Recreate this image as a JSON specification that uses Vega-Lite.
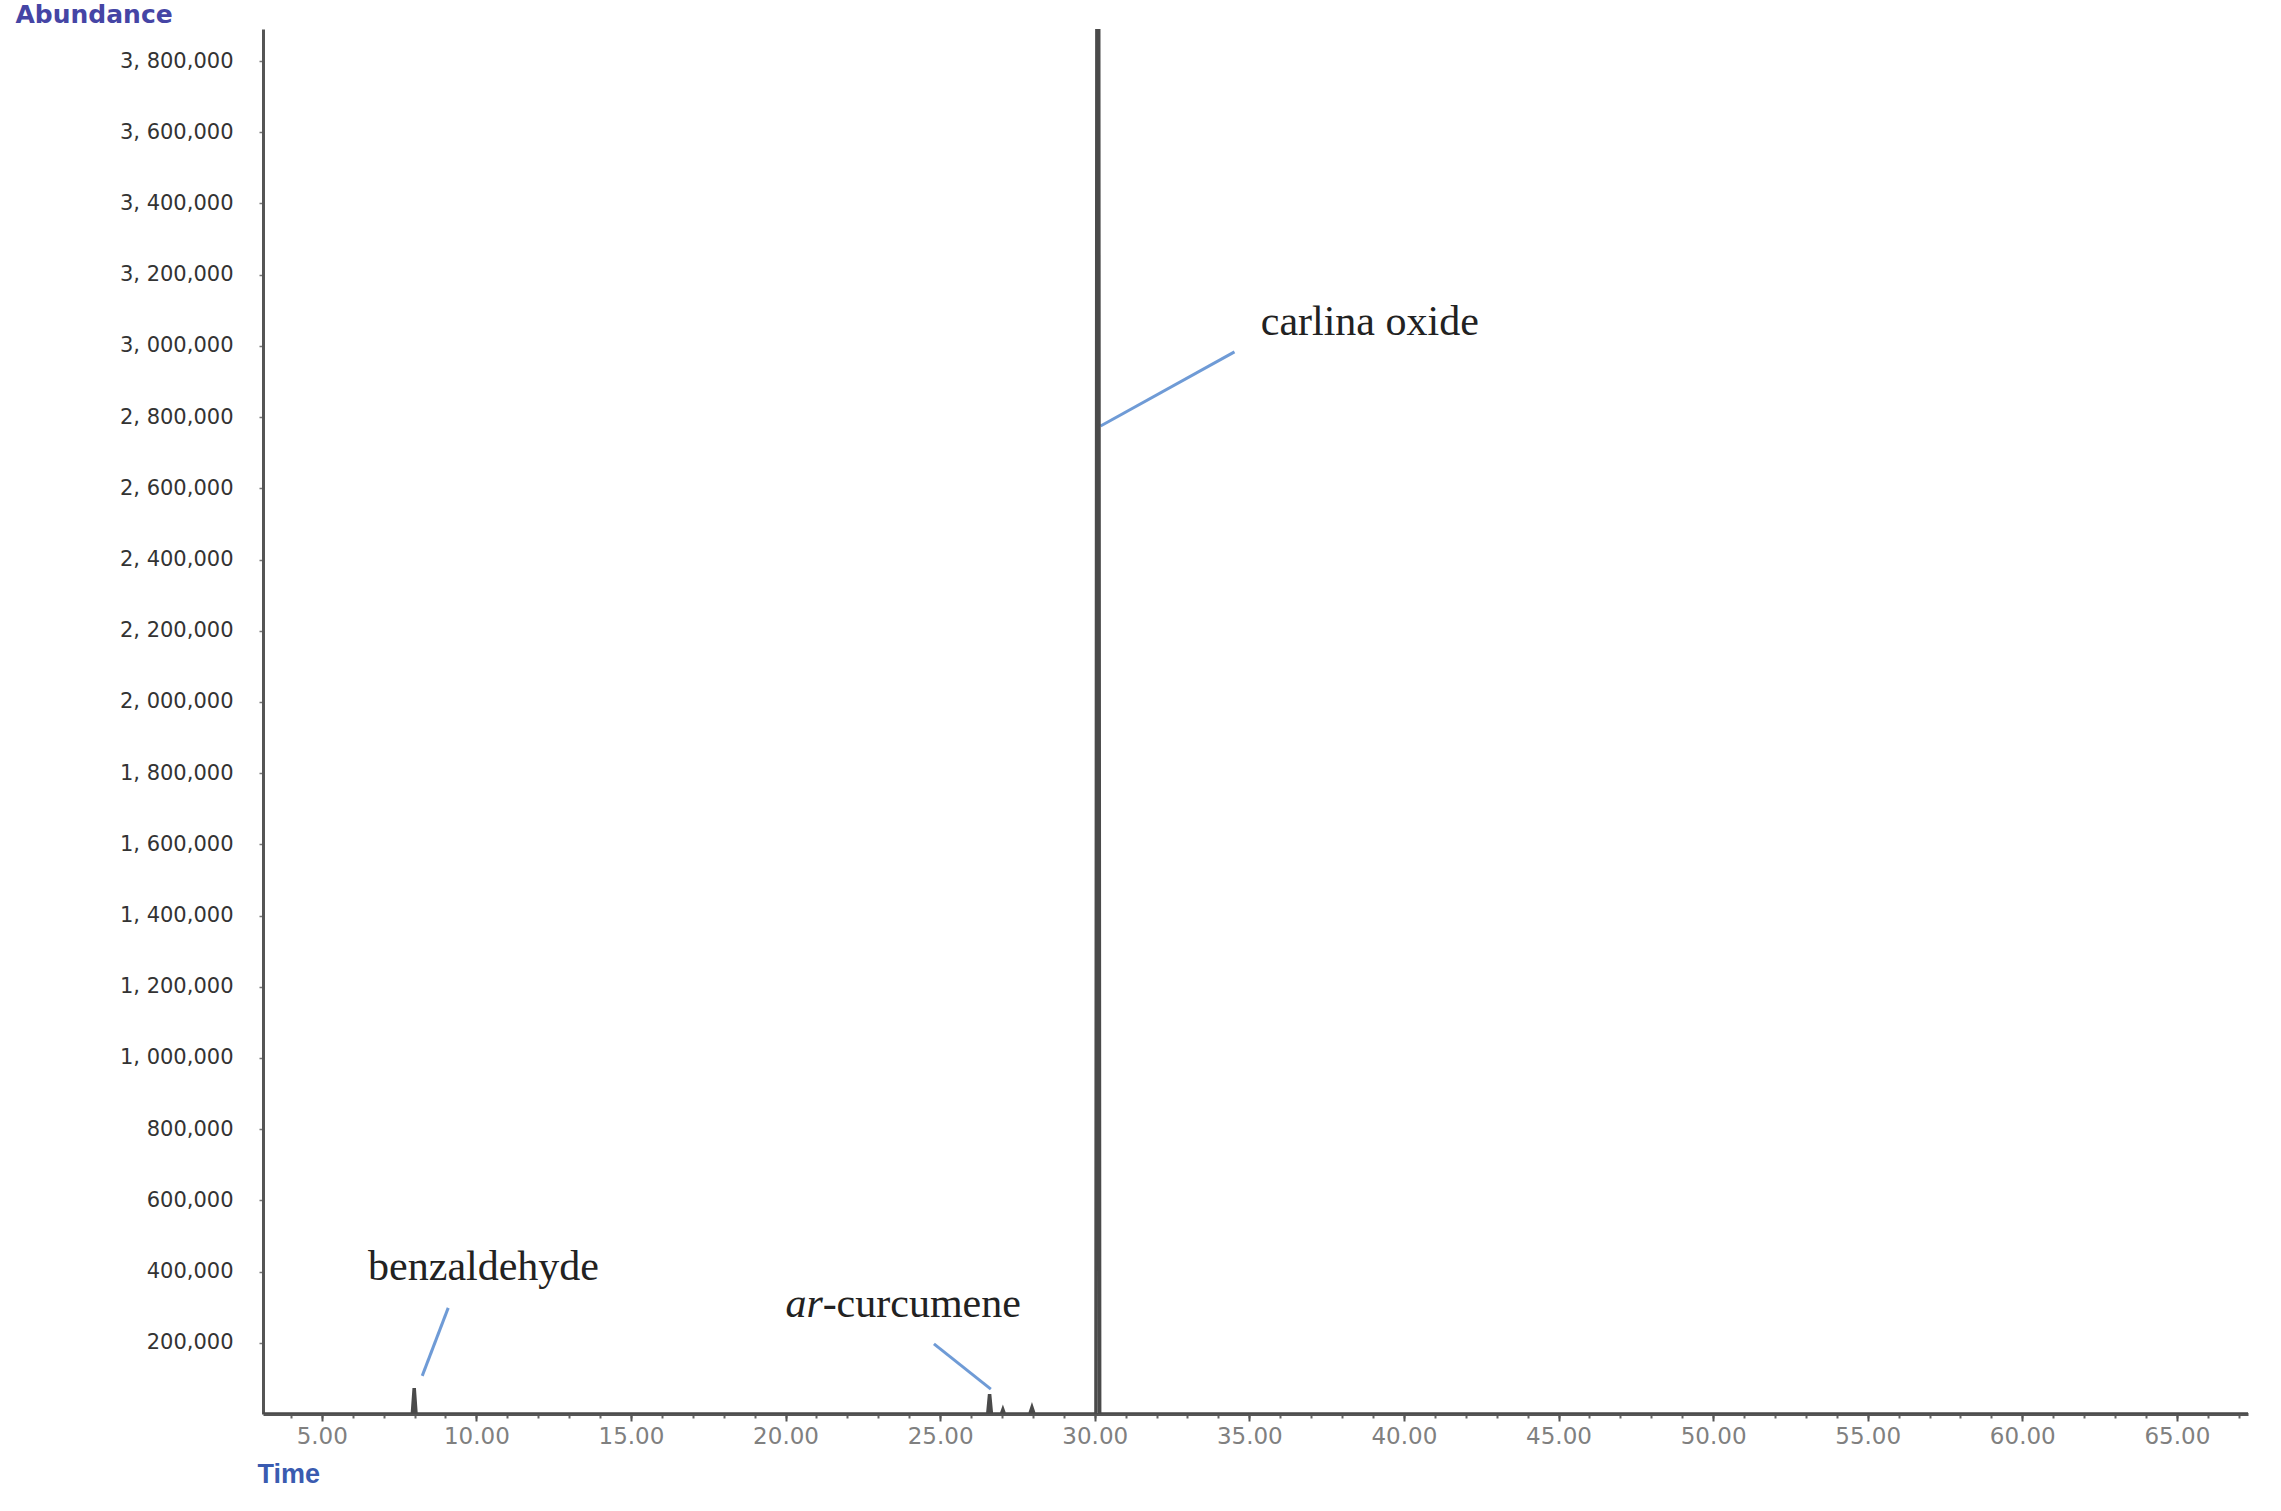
{
  "$schema": "https://vega.github.io/schema/vega-lite/v6.json",
  "width": 1985,
  "height": 1385,
  "autosize": {"type": "none"},
  "padding": {"left": 263, "top": 29, "right": 33, "bottom": 97},
  "background": "white",
  "config": {"view": {"stroke": null}},
  "resolve": {"axis": {"x": "independent"}},
  "datasets": {
    "trace": [
      {"t": 3.1, "a": 0}, {"t": 7.93, "a": 0}, {"t": 7.99, "a": 73000}, {"t": 8.05, "a": 0},
      {"t": 26.54, "a": 0}, {"t": 26.6, "a": 56000}, {"t": 26.66, "a": 0},
      {"t": 26.98, "a": 0}, {"t": 27.03, "a": 12000}, {"t": 27.08, "a": 0},
      {"t": 27.9, "a": 0}, {"t": 27.97, "a": 18000}, {"t": 28.04, "a": 0},
      {"t": 30.04, "a": 0}, {"t": 30.07, "a": 3890000}, {"t": 30.13, "a": 3890000}, {"t": 30.16, "a": 0},
      {"t": 67.3, "a": 0}
    ],
    "callouts": [
      {"t1": 30.19, "a1": 2775000, "t2": 34.52, "a2": 2983000},
      {"t1": 8.25, "a1": 107000, "t2": 9.09, "a2": 298000},
      {"t1": 24.8, "a1": 197000, "t2": 26.64, "a2": 70000}
    ],
    "labels": [
      {"t": 35.37, "a": 3030000, "label": "carlina oxide", "style": "normal"},
      {"t": 6.5, "a": 376000, "label": "benzaldehyde", "style": "normal"},
      {"t": 20.0, "a": 272000, "label": "ar", "style": "italic"},
      {"t": 21.2, "a": 272000, "label": "-curcumene", "style": "normal"}
    ]
  },
  "layer": [
    {
      "data": {"name": "callouts"},
      "mark": {"type": "rule", "color": "#6f9bd6", "strokeWidth": 3},
      "encoding": {
        "x": {
          "field": "t1", "type": "quantitative",
          "scale": {"domain": [3.1, 67.3], "nice": false, "zero": false},
          "axis": {
            "orient": "bottom",
            "values": [4,5,6,7,8,9,10,11,12,13,14,15,16,17,18,19,20,21,22,23,24,25,26,27,28,29,30,31,32,33,34,35,36,37,38,39,40,41,42,43,44,45,46,47,48,49,50,51,52,53,54,55,56,57,58,59,60,61,62,63,64,65,66,67],
            "labels": false,
            "domain": false,
            "tickSize": 4,
            "tickWidth": 2,
            "tickColor": "#666666",
            "grid": false,
            "title": null
          }
        },
        "y": {"field": "a1", "type": "quantitative"},
        "x2": {"field": "t2"},
        "y2": {"field": "a2"}
      }
    },
    {
      "data": {"name": "trace"},
      "mark": {"type": "line", "color": "#4a4a4a", "strokeWidth": 3.5, "clip": true},
      "encoding": {
        "x": {
          "field": "t", "type": "quantitative",
          "scale": {"domain": [3.1, 67.3], "nice": false, "zero": false},
          "axis": {
            "orient": "bottom",
            "values": [5,10,15,20,25,30,35,40,45,50,55,60,65],
            "format": ".2f",
            "labelOverlap": false,
            "labelFlush": false,
            "labelFont": "DejaVu Sans",
            "labelFontSize": 23,
            "labelColor": "#808080",
            "labelPadding": 4,
            "tickSize": 7,
            "tickWidth": 2,
            "tickColor": "#555555",
            "domainColor": "#555555",
            "domainWidth": 3,
            "grid": false,
            "title": "Time",
            "titleFont": "Liberation Sans",
            "titleFontSize": 27,
            "titleFontWeight": "bold",
            "titleColor": "#3a5bb0",
            "titleAnchor": "start",
            "titleAlign": "left",
            "titleBaseline": "middle",
            "titleX": -6,
            "titleY": 60
          }
        },
        "y": {
          "field": "a", "type": "quantitative",
          "scale": {"domain": [0, 3890000], "nice": false},
          "axis": {
            "values": [200000,400000,600000,800000,1000000,1200000,1400000,1600000,1800000,2000000,2200000,2400000,2600000,2800000,3000000,3200000,3400000,3600000,3800000],
            "labelExpr": "datum.value >= 1000000 ? replace(format(datum.value, ','), ',', ', ') : format(datum.value, ',')",
            "labelFont": "DejaVu Sans",
            "labelFontSize": 21,
            "labelColor": "#333333",
            "labelPadding": 26,
            "tickSize": 4,
            "tickWidth": 1.5,
            "tickColor": "#777777",
            "domainColor": "#555555",
            "domainWidth": 3,
            "grid": false,
            "title": "Abundance",
            "titleAngle": 0,
            "titleFont": "DejaVu Sans",
            "titleFontSize": 25,
            "titleFontWeight": "bold",
            "titleColor": "#4545a5",
            "titleAlign": "left",
            "titleBaseline": "middle",
            "titleX": -248,
            "titleY": -15
          }
        }
      }
    },
    {
      "data": {"name": "labels"},
      "transform": [{"filter": "datum.style === 'normal'"}],
      "mark": {"type": "text", "font": "Liberation Serif", "fontSize": 42, "color": "#222222", "align": "left", "baseline": "alphabetic"},
      "encoding": {
        "x": {"field": "t", "type": "quantitative", "axis": null},
        "y": {"field": "a", "type": "quantitative"},
        "text": {"field": "label"}
      }
    },
    {
      "data": {"name": "labels"},
      "transform": [{"filter": "datum.style === 'italic'"}],
      "mark": {"type": "text", "font": "Liberation Serif", "fontSize": 42, "fontStyle": "italic", "color": "#222222", "align": "left", "baseline": "alphabetic"},
      "encoding": {
        "x": {"field": "t", "type": "quantitative", "axis": null},
        "y": {"field": "a", "type": "quantitative"},
        "text": {"field": "label"}
      }
    }
  ]
}
